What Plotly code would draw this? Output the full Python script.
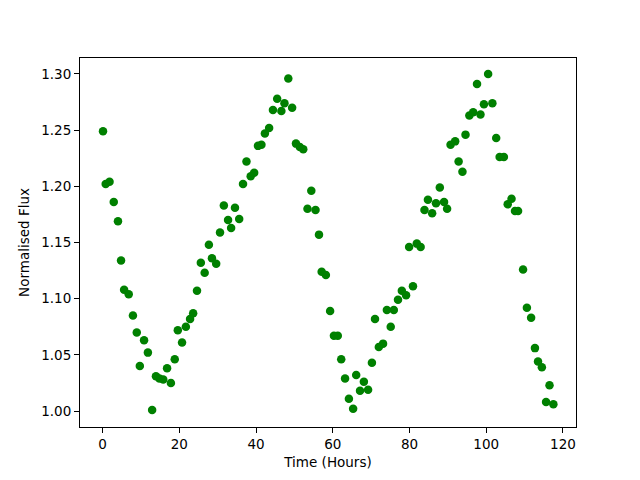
import plotly.graph_objects as go

time_hours = [0.1, 0.8, 1.8, 2.9, 4.0, 4.8, 5.6, 6.8, 7.9, 8.9, 9.7, 10.8, 11.8, 12.9,
              13.9, 14.8, 15.8, 16.8, 17.8, 18.8, 19.6, 20.7, 21.7, 22.8, 23.6, 24.6,
              25.6, 26.6, 27.7, 28.5, 29.6, 30.6, 31.6, 32.7, 33.5, 34.5, 35.6, 36.6,
              37.5, 38.6, 39.5, 40.5, 41.4, 42.3, 43.4, 44.4, 45.5, 46.6, 47.4, 48.4,
              49.4, 50.4, 51.4, 52.3, 53.4, 54.4, 55.5, 56.4, 57.1, 58.2, 59.3, 60.3,
              61.3, 62.2, 63.2, 64.2, 65.3, 66.1, 67.1, 68.1, 69.2, 70.2, 71.0, 72.0,
              73.1, 74.1, 75.1, 75.9, 77.0, 78.0, 79.1, 79.9, 80.9, 81.9, 82.9, 83.9,
              84.8, 85.9, 86.9, 87.9, 89.0, 89.8, 90.7, 91.9, 92.8, 93.8, 94.6, 95.6,
              96.6, 97.6, 98.5, 99.4, 100.5, 101.6, 102.6, 103.5, 104.6, 105.6, 106.6,
              107.5, 108.3, 109.6, 110.6, 111.7, 112.7, 113.5, 114.5, 115.6, 116.5, 117.5]

normalised_flux = [1.249, 1.202, 1.204, 1.186, 1.169, 1.134, 1.108, 1.104, 1.085, 1.070,
                   1.040, 1.063, 1.052, 1.001, 1.031, 1.029, 1.028, 1.038, 1.025, 1.046,
                   1.072, 1.061, 1.075, 1.082, 1.087, 1.107, 1.132, 1.123, 1.148, 1.136,
                   1.131, 1.159, 1.183, 1.170, 1.163, 1.181, 1.171, 1.202, 1.222, 1.209,
                   1.212, 1.236, 1.237, 1.247, 1.252, 1.268, 1.278, 1.267, 1.274, 1.296,
                   1.270, 1.238, 1.235, 1.233, 1.180, 1.196, 1.179, 1.157, 1.124, 1.121,
                   1.089, 1.067, 1.067, 1.046, 1.029, 1.011, 1.002, 1.032, 1.018, 1.026,
                   1.019, 1.043, 1.082, 1.057, 1.060, 1.090, 1.075, 1.090, 1.099, 1.107,
                   1.103, 1.146, 1.111, 1.149, 1.146, 1.179, 1.188, 1.176, 1.185, 1.199,
                   1.186, 1.180, 1.237, 1.240, 1.222, 1.213, 1.246, 1.263, 1.266, 1.291,
                   1.264, 1.273, 1.300, 1.274, 1.243, 1.226, 1.226, 1.184, 1.189, 1.178,
                   1.178, 1.126, 1.092, 1.083, 1.056, 1.044, 1.039, 1.008, 1.023, 1.006]

x_ticks = [0, 20, 40, 60, 80, 100, 120]
y_ticks = [1.00, 1.05, 1.10, 1.15, 1.20, 1.25, 1.30]

fig = go.Figure()
fig.add_trace(go.Scatter(
    x=time_hours, y=normalised_flux, mode="markers",
    marker=dict(color="#008000", size=8.5, line=dict(width=0)),
    showlegend=False,
))

font = dict(family="DejaVu Sans", size=13.5, color="black")
axis_common = dict(
    showline=True, mirror=True, linecolor="black", linewidth=1,
    ticks="outside", ticklen=5, tickcolor="black", tickwidth=1,
    showgrid=False, zeroline=False, tickfont=font,
)
# The page body adds an 8px offset, so margins compensate for it.
fig.update_layout(
    width=640, height=480,
    margin=dict(l=72, r=72, t=50, b=61, autoexpand=False),
    paper_bgcolor="white", plot_bgcolor="white",
    font=font,
    xaxis=dict(range=[-5.9, 123.4], tickvals=x_ticks, ticktext=[str(v) for v in x_ticks],
               title=dict(text="Time (Hours)", font=font, standoff=6), **axis_common),
    yaxis=dict(range=[0.9858, 1.3142], tickvals=y_ticks, ticktext=[f"{v:.2f}" for v in y_ticks],
               title=dict(text="Normalised Flux", font=font, standoff=8), **axis_common),
)
fig.write_html("out.html")
